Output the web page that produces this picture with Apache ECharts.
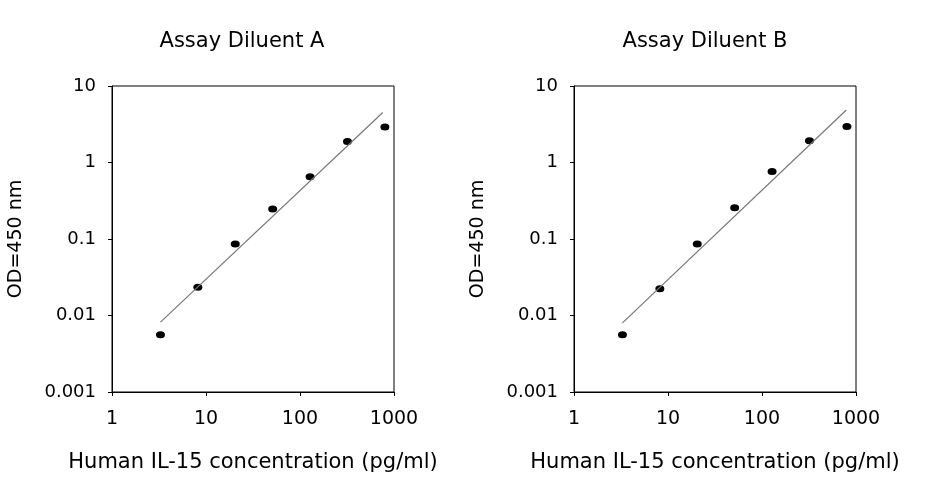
<!DOCTYPE html>
<html lang="en">
<head>
    <meta charset="UTF-8">
    <title>IL-15 standard curves</title>
    <script src="https://cdn.jsdelivr.net/npm/echarts@6/dist/echarts.min.js"></script>
    <style>
        html, body { margin: 0; padding: 0; background: #fff; }
        #myChart { width: 926px; height: 480px; }
    </style>
</head>
<body>
<div id="myChart"></div>
<script type="text/javascript">
    // concentration (pg/ml), 2.5-fold dilutions
    var conc = [3.2768, 8.192, 20.48, 51.2, 128, 320, 800];
    // OD values
    var odA = [0.0056, 0.0234, 0.086, 0.246, 0.65, 1.88, 2.92];
    var odB = [0.0056, 0.0223, 0.086, 0.256, 0.763, 1.92, 2.95];
    // fitted lines, start and end points
    var fitA = [[3.28, 0.0082], [760, 4.5]];
    var fitB = [[3.28, 0.0080], [789, 4.86]];
    var titles = ['Assay Diluent A', 'Assay Diluent B'];
    var xName = 'Human IL-15 concentration (pg/ml)';
    var yName = 'OD=450 nm';

    var font = 'DejaVu Sans';
    var grids = [
        {left: 112, top: 86, width: 282, height: 306},
        {left: 574, top: 86, width: 282, height: 306}
    ];

    function fmt(v) {
        var s = Number(v.toPrecision(3));
        return String(s);
    }

    var xAxes = [], yAxes = [], series = [], titleList = [];
    for (var i = 0; i < 2; i++) {
        grids[i].show = true;
        grids[i].borderColor = '#000';
        grids[i].borderWidth = 1;
        titleList.push({
            text: titles[i],
            left: i == 0 ? 237 : 700,
            top: 26,
            textAlign: 'center',
            textStyle: {fontFamily: font, fontSize: 21, fontWeight: 'normal', color: '#000'}
        });
        xAxes.push({
            gridIndex: i, type: 'log', logBase: 10, min: 1, max: 1000,
            name: xName, nameLocation: 'middle', nameGap: 60,
            nameTextStyle: {fontFamily: font, fontSize: 21, color: '#000'},
            axisLine: {lineStyle: {color: '#000', width: 1}},
            axisTick: {length: 4, lineStyle: {color: '#000'}},
            minorTick: {show: false},
            splitLine: {show: false},
            axisLabel: {fontFamily: font, fontSize: 19, color: '#000', margin: 18, formatter: fmt}
        });
        yAxes.push({
            gridIndex: i, type: 'log', logBase: 10, min: 0.001, max: 10,
            name: yName, nameLocation: 'middle', nameGap: 86,
            nameTextStyle: {fontFamily: font, fontSize: 19, color: '#000'},
            axisLine: {lineStyle: {color: '#000', width: 1}},
            axisTick: {length: 4, lineStyle: {color: '#000'}},
            splitLine: {show: false},
            axisLabel: {fontFamily: font, fontSize: 18, color: '#000', margin: 16, formatter: fmt}
        });
        var od = i == 0 ? odA : odB;
        var pts = [];
        for (var j = 0; j < conc.length; j++) {
            pts.push([conc[j], od[j]]);
        }
        series.push({
            type: 'line', xAxisIndex: i, yAxisIndex: i,
            data: i == 0 ? fitA : fitB,
            showSymbol: false, silent: true,
            lineStyle: {color: '#777', width: 1.2}
        });
        series.push({
            type: 'scatter', xAxisIndex: i, yAxisIndex: i,
            data: pts, symbol: 'circle', symbolSize: [9, 7],
            itemStyle: {color: '#000', opacity: 1}
        });
    }

    var myChart = echarts.init(document.getElementById('myChart'));
    myChart.setOption({
        animation: false,
        backgroundColor: '#fff',
        title: titleList,
        grid: grids,
        xAxis: xAxes,
        yAxis: yAxes,
        series: series
    });
</script>
</body>
</html>
